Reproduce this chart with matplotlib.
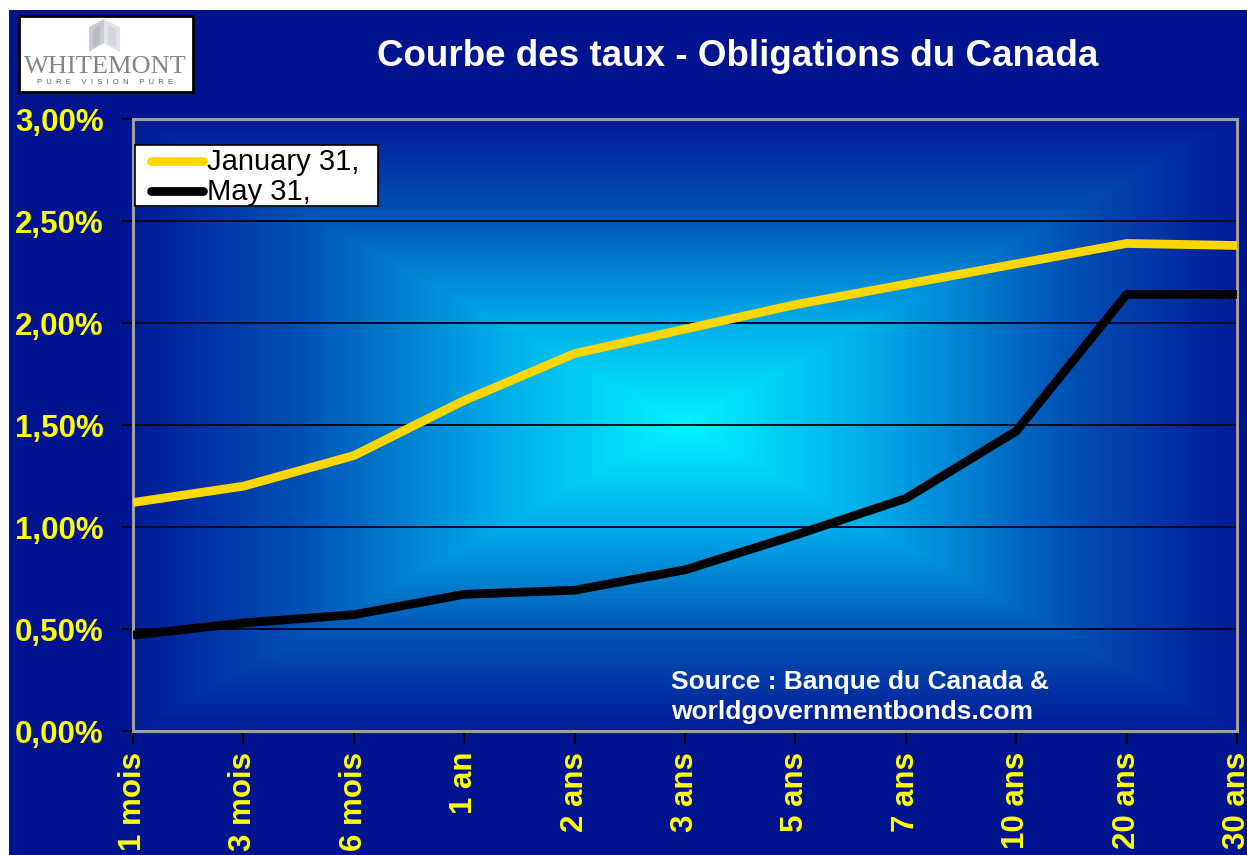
import numpy as np
import matplotlib
matplotlib.use("Agg")
import matplotlib.pyplot as plt
from matplotlib.patches import Rectangle, Polygon
from matplotlib.lines import Line2D
from matplotlib.colors import LinearSegmentedColormap

categories = ["1 mois", "3 mois", "6 mois", "1 an", "2 ans", "3 ans", "5 ans",
              "7 ans", "10 ans", "20 ans", "30 ans"]
jan31 = [1.12, 1.20, 1.35, 1.62, 1.85, 1.97, 2.09, 2.19, 2.29, 2.39, 2.38]
may31 = [0.47, 0.53, 0.57, 0.67, 0.69, 0.79, 0.96, 1.14, 1.47, 2.14, 2.14]
yticks = [0.0, 0.5, 1.0, 1.5, 2.0, 2.5, 3.0]
ytick_labels = ["0,00%", "0,50%", "1,00%", "1,50%", "2,00%", "2,50%", "3,00%"]
series_labels = ["January 31,", "May 31,"]
series_colors = ["#ffd700", "black"]

plt.rcParams['font.family'] = ['Liberation Sans', 'DejaVu Sans']

W, H = 1247, 855
fig = plt.figure(figsize=(W / 100, H / 100), dpi=100)
fig.patch.set_facecolor("white")
BG = "#00148f"
fig.add_artist(Rectangle((9 / W, 0), 1 - 9 / W, (H - 10) / H, transform=fig.transFigure,
                         facecolor=BG, edgecolor="none", zorder=0))

ax = fig.add_axes([133 / W, (H - 731) / H, 1104 / W, 612 / H])
ax.set_zorder(2)

# rectangular "from center" gradient
nx, ny = 600, 340
xx = np.linspace(-1, 1, nx)
yy = np.linspace(-1, 1, ny)
X, Y = np.meshgrid(xx, yy)
T = np.maximum(np.abs(X), np.abs(Y))
cmap = LinearSegmentedColormap.from_list("g", [(0.0, "#00f4ff"), (0.35, "#00a8e8"),
                                                (0.7, "#0050b4"), (1.0, "#001c96")])
n = len(categories) - 1
ax.imshow(T, cmap=cmap, extent=[0, n, 0, 3], aspect="auto", origin="lower",
          zorder=0, interpolation="bilinear")

for yv in yticks[1:-1]:
    ax.axhline(yv, color="#000820", lw=1.4, zorder=1)

x = np.arange(len(categories))
for vals, c, lab in zip([jan31, may31], series_colors, series_labels):
    ax.plot(x, vals, color=c, lw=6.3, solid_capstyle="butt", zorder=3, label=lab)

ax.set_xlim(0, n)
ax.set_ylim(0, 3)
ax.set_xticks(x)
ax.set_xticklabels(categories, rotation=90, ha="center", va="top")
ax.set_yticks(yticks)
ax.set_yticklabels(ytick_labels)
for lbl in ax.get_xticklabels() + ax.get_yticklabels():
    lbl.set_color("#ffff00")
    lbl.set_fontweight("bold")
    lbl.set_fontsize(22.5)
ax.tick_params(axis="y", direction="out", length=9, width=1.5, color="black", pad=12)
ax.tick_params(axis="x", direction="out", length=9, width=1.5, color="black", pad=6)
for s in ax.spines.values():
    s.set_color("#a0a0a0")
    s.set_linewidth(2.2)

# legend drawn in pixel-based figure coordinates
def fx(px):
    return px / W

def fy(py):
    return 1 - py / H

fig.add_artist(Rectangle((fx(135), fy(206)), (378 - 135) / W, (206 - 145) / H,
                         transform=fig.transFigure, facecolor="white", edgecolor="black",
                         lw=1.2, zorder=8))
for i, (c, lab) in enumerate(zip(series_colors, series_labels)):
    yy_ = 161 + i * 30
    fig.add_artist(Line2D([fx(151), fx(203)], [fy(yy_), fy(yy_)], color=c, lw=6.3,
                          solid_capstyle="round", transform=fig.transFigure, zorder=9))
    fig.text(fx(207), fy(yy_ + 1), lab, color="black", fontsize=21, ha="left",
             va="center", zorder=9)

ax.text(0.487, 0.1, "Source : Banque du Canada &\nworldgovernmentbonds.com",
        transform=ax.transAxes, color="white", fontsize=19, fontweight="bold",
        ha="left", va="top", linespacing=1.3, zorder=4)

fig.text(738 / W, 1 - 57 / H, "Courbe des taux - Obligations du Canada", color="white",
         fontsize=26.5, fontweight="bold", ha="center", va="center")

# logo
lx0, ly0, lx1, ly1 = 19, 16, 193, 92
fig.add_artist(Rectangle((lx0 / W, 1 - ly1 / H), (lx1 - lx0) / W, (ly1 - ly0) / H,
                         transform=fig.transFigure, facecolor="white", edgecolor="black",
                         lw=2, zorder=5))
polys = [
    ([(89, 52), (89, 27), (104, 19), (104, 43)], "#c9cdd1"),
    ([(104, 43), (104, 19), (120, 27), (120, 52)], "#e2e5e8"),
    ([(93, 48), (93, 29), (100, 25), (100, 44)], "#b8bdc2"),
    ([(108, 44), (108, 25), (116, 29), (116, 48)], "#d3d7db"),
]
for poly, c in polys:
    fig.add_artist(Polygon([(px / W, 1 - py / H) for px, py in poly], closed=True,
                           transform=fig.transFigure, facecolor=c, edgecolor="none", zorder=6))
fig.text(105 / W, 1 - 67 / H, "WHITEMONT", family="Liberation Serif", fontsize=19,
         color="#7d8790", ha="center", va="center", zorder=7)
fig.text(105 / W, 1 - 82 / H, "P  U  R  E     V  I  S  I  O  N     P  U  R  E",
         family="Liberation Sans", fontsize=5.5, color="#555555", ha="center",
         va="center", zorder=7)

fig.savefig("out.png", dpi=100, facecolor=fig.get_facecolor())
